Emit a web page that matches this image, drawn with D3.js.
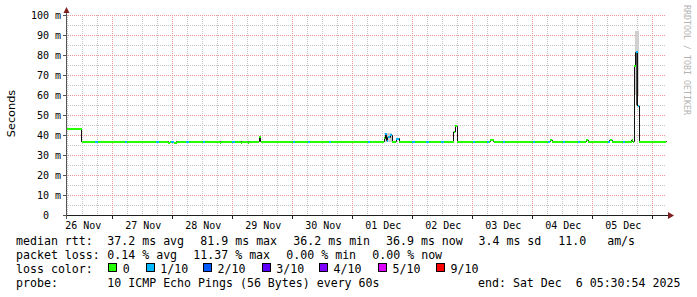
<!DOCTYPE html>
<html><head><meta charset="utf-8">
<script src="https://cdn.jsdelivr.net/npm/d3@7"></script>
<style>
html,body{margin:0;padding:0;background:#fff;}
svg{display:block;}
text{white-space:pre;}
</style></head><body>
<svg id="c" width="697" height="297"></svg>
<script>
// ---- data ----
const startTime = Date.UTC(2025,10,26,5,30,54);
const endTime   = Date.UTC(2025,11,6,5,30,54);
const yTicks = [0,10,20,30,40,50,60,70,80,90,100];
const yTickLabels = ["0  ","10 m","20 m","30 m","40 m","50 m","60 m","70 m","80 m","90 m","100 m"];
const lossLevels = [0,1,2,3,4,5,9];
const lossLabels = ["0","1/10","2/10","3/10","4/10","5/10","9/10"];
const lossColors = ["#26ff00","#00b8ff","#0059ff","#5e00ff","#7e00ff","#dd00ff","#ff0000"];
// [hours after start, median rtt (ms), lost pings of 10]
const medianSteps = [
  [0,43.1,0],[6.2,36.7,0],
  [11.7,36.7,1],[12.9,36.7,0],
  [23.4,36.7,1],[24.4,36.7,0],
  [36.1,36.7,1],[37.2,36.7,0],
  [40.8,36.2,0],[41.6,36.7,0],
  [42.1,36.6,1],[43.1,36.2,0],[44.3,36.7,0],
  [48.1,36.7,1],[49.2,36.7,0],
  [54.6,36.7,1],[55.6,36.7,0],
  [61.6,36.2,0],[62.0,36.7,0],
  [66.3,36.7,1],[67.4,36.7,0],
  [70.0,36.2,0],[70.4,36.7,0],
  [72.8,36.2,0],[73.2,36.7,0],
  [77.3,39.2,0],[77.9,36.7,0],
  [84.0,36.3,0],[86.0,36.7,0],
  [90.7,36.7,1],[91.7,36.7,0],
  [96.6,36.7,1],[97.6,36.7,0],
  [105.0,36.7,1],[106.0,36.7,0],
  [120.6,36.7,1],[121.6,36.7,0],
  [127.2,38.3,0],[127.6,40.3,1],[128.2,37.2,1],[128.8,38.8,1],[129.6,39.8,1],[130.4,36.7,0],
  [132.0,37.8,1],[132.6,38.2,1],[133.2,36.7,0],
  [138.5,36.7,1],[139.5,36.7,0],
  [144.1,36.7,1],[145.1,36.7,0],
  [150.1,36.7,1],[151.1,36.7,0],
  [155.2,41.5,0],[155.7,44.3,0],[156.4,36.7,0],
  [162.7,36.7,1],[163.7,36.7,0],
  [168.3,36.7,1],[169.3,36.7,0],
  [169.6,37.5,0],[171.0,36.7,0],
  [174.7,36.7,1],[175.7,36.7,0],
  [186.7,36.7,1],[187.7,36.7,0],
  [192.7,36.7,1],[193.6,37.4,0],[194.4,36.7,0],
  [198.7,36.7,1],[199.7,36.7,0],
  [204.7,36.7,1],[205.7,36.7,0],
  [208.0,37.4,0],[208.8,36.7,0],
  [216.7,36.7,1],[217.6,37.4,0],[218.4,36.7,0],
  [222.7,36.7,1],[223.7,36.7,0],
  [226.3,37.4,0],[226.7,36.7,0],
  [227.2,74.6,0],[228.0,81.3,1],[228.6,54.5,1],[229.2,36.7,0],
  [240,36.9,0]
];
// smoke: [hours, low ms, high ms]
const smokeOuter = [[127.2,36.5,41.2],[130.4,null,null],[227.6,60,92],[229.3,null,null]];
const smokeInner = [[227.9,55,81],[228.9,null,null]];
const legendMedian = [["median rtt:",16],["37.2 ms avg",107.3],["81.9 ms max",200.3],["36.2 ms min",293.3],["36.9 ms now",386],["3.4 ms sd",478.5],["11.0   am/s",558.3]];
const legendLoss = [["packet loss:",16],["0.14 % avg",107.3],["11.37 % max",193.3],["0.00 % min",286.3],["0.00 % now",372.3]];
const legendProbe = [["probe:",16],["10 ICMP Echo Pings (56 Bytes) every 60s",107.3],["end: Sat Dec  6 05:30:54 2025",478]];
const lossBoxX = [108.3,145.7,203,261.7,319,378,436];

// ---- drawing ----
const svg = d3.select("#c");
const x = d3.scaleUtc().domain([new Date(startTime), new Date(endTime)]).range([66,666]);
const y = d3.scaleLinear().domain([0,100]).range([215,15]);
const tAt = h => new Date(startTime + h*3600000);
const mono = "'DejaVu Sans Mono', monospace";

// grid
const g = svg.append("g");
const minorY = d3.range(5,100,10);
g.selectAll(".hmin").data(minorY).join("line")
  .attr("x1",66).attr("x2",666).attr("y1",d=>Math.round(y(d))+0.5).attr("y2",d=>Math.round(y(d))+0.5)
  .attr("stroke","#c4c4c4").attr("stroke-dasharray","1,1");
const hours6 = d3.utcHour.every(6).range(new Date(startTime), new Date(endTime)).filter(d=>d.getUTCHours()!==0);
g.selectAll(".vmin").data(hours6).join("line")
  .attr("y1",15).attr("y2",215).attr("x1",d=>Math.floor(x(d))+0.5).attr("x2",d=>Math.floor(x(d))+0.5)
  .attr("stroke","#c4c4c4").attr("stroke-dasharray","1,1");
g.selectAll(".hmaj").data(yTicks.slice(1)).join("line")
  .attr("x1",66).attr("x2",666).attr("y1",d=>Math.round(y(d))+0.5).attr("y2",d=>Math.round(y(d))+0.5)
  .attr("stroke","#eb9595").attr("stroke-dasharray","1,1");
const days = d3.utcDay.range(new Date(startTime), new Date(endTime));
g.selectAll(".vmaj").data(days).join("line")
  .attr("y1",15).attr("y2",215).attr("x1",d=>Math.floor(x(d))+0.5).attr("x2",d=>Math.floor(x(d))+0.5)
  .attr("stroke","#eb9595").attr("stroke-dasharray","1,1");

// smoke
function stepArea(data, fill){
  const segs = [];
  for(let i=0;i<data.length-1;i++){ if(data[i][1]!=null) segs.push([data[i],data[i+1]]); }
  svg.append("g").selectAll("rect").data(segs).join("rect")
    .attr("x",d=>x(tAt(d[0][0]))).attr("width",d=>x(tAt(d[1][0]))-x(tAt(d[0][0])))
    .attr("y",d=>y(d[0][2])).attr("height",d=>y(d[0][1])-y(d[0][2]))
    .attr("fill",fill).attr("shape-rendering","crispEdges");
}
stepArea(smokeOuter,"#d0d0d0");
stepArea(smokeInner,"#505050");

// median line (black steps)
const line = d3.line().x(d=>Math.floor(x(tAt(d[0])))+0.5).y(d=>y(d[1])).curve(d3.curveStepAfter);
svg.append("path").datum(medianSteps).attr("d",line).attr("fill","none").attr("stroke","#111").attr("stroke-width",1);

// colored median band by loss
const bands = medianSteps.slice(0,-1).map((d,i)=>[d,medianSteps[i+1]]);
svg.append("g").selectAll("rect").data(bands).join("rect")
  .attr("x",d=>x(tAt(d[0][0]))).attr("width",d=>Math.max(0.8,x(tAt(d[1][0]))-x(tAt(d[0][0]))))
  .attr("y",d=>y(d[0][1])-1).attr("height",2)
  .attr("fill",d=>lossColors[lossLevels.indexOf(d[0][2])]).attr("shape-rendering","crispEdges");

// axes
const ax = svg.append("g").attr("shape-rendering","crispEdges");
ax.append("line").attr("x1",63).attr("x2",669).attr("y1",215.5).attr("y2",215.5).attr("stroke","#1f1f1f");
ax.append("line").attr("x1",66.5).attr("x2",66.5).attr("y1",219).attr("y2",12).attr("stroke","#555");
ax.selectAll(".yt").data(yTicks).join("line").attr("x1",63).attr("x2",66)
  .attr("y1",d=>Math.round(y(d))+0.5).attr("y2",d=>Math.round(y(d))+0.5).attr("stroke","#555");
ax.selectAll(".xt").data(days).join("line").attr("y1",216).attr("y2",219)
  .attr("x1",d=>Math.floor(x(d))+0.5).attr("x2",d=>Math.floor(x(d))+0.5).attr("stroke","#1f1f1f");
svg.append("path").attr("d","M668,212 L674,215.5 L668,219 Z").attr("fill","#7f1f1f");
svg.append("path").attr("d","M63.5,13 L66.5,7 L69.5,13 Z").attr("fill","#7f1f1f");

// y labels
svg.append("g").selectAll("text").data(yTicks).join("text")
  .attr("x",61).attr("y",d=>y(d)+4).attr("text-anchor","end")
  .attr("font-family",mono).attr("font-size",10).attr("fill","#000")
  .text((d,i)=>yTickLabels[i]);
// x labels at noon
const noons = days.map(d=>d3.utcHour.offset(d,12)); noons.unshift(new Date(Date.UTC(2025,10,26,12)));
const fmt = d3.utcFormat("%d %b");
svg.append("g").selectAll("text").data(noons.filter(d=>+d<endTime)).join("text")
  .attr("x",d=>x(d)+1).attr("y",229).attr("text-anchor","middle")
  .attr("font-family",mono).attr("font-size",10).attr("fill","#000").text(d=>fmt(d));

// axis title
svg.append("text").attr("transform","translate(14.5,113.5) rotate(-90)").attr("text-anchor","middle")
  .attr("font-family","'DejaVu Sans', sans-serif").attr("font-size",11.3).attr("fill","#000").text("Seconds");
// watermark
svg.append("text").attr("transform","translate(684,5) rotate(90)")
  .attr("font-family",mono).attr("font-size",9.5).attr("fill","#b4b4b4")
  .attr("textLength",110).attr("lengthAdjust","spacingAndGlyphs").text("RRDTOOL / TOBI OETIKER");

// legend
const lg = svg.append("g").attr("font-family",mono).attr("font-size",11.6).attr("fill","#000");
function row(items, yb){ lg.append("g").selectAll("text").data(items).join("text").attr("x",d=>d[1]).attr("y",yb).text(d=>d[0]); }
row(legendMedian,245);
row(legendLoss,259);
row([["loss color:",16]],273);
row(legendProbe,286.7);
lg.append("g").selectAll("rect").data(lossLevels).join("rect")
  .attr("x",(d,i)=>Math.round(lossBoxX[i])+0.5).attr("y",263.5).attr("width",8).attr("height",8)
  .attr("fill",(d,i)=>lossColors[i]).attr("stroke","#000").attr("stroke-width",1).attr("shape-rendering","crispEdges");
lg.append("g").selectAll("text").data(lossLabels).join("text")
  .attr("x",(d,i)=>lossBoxX[i]+14.5).attr("y",273).text(d=>d);
</script>
</body></html>
